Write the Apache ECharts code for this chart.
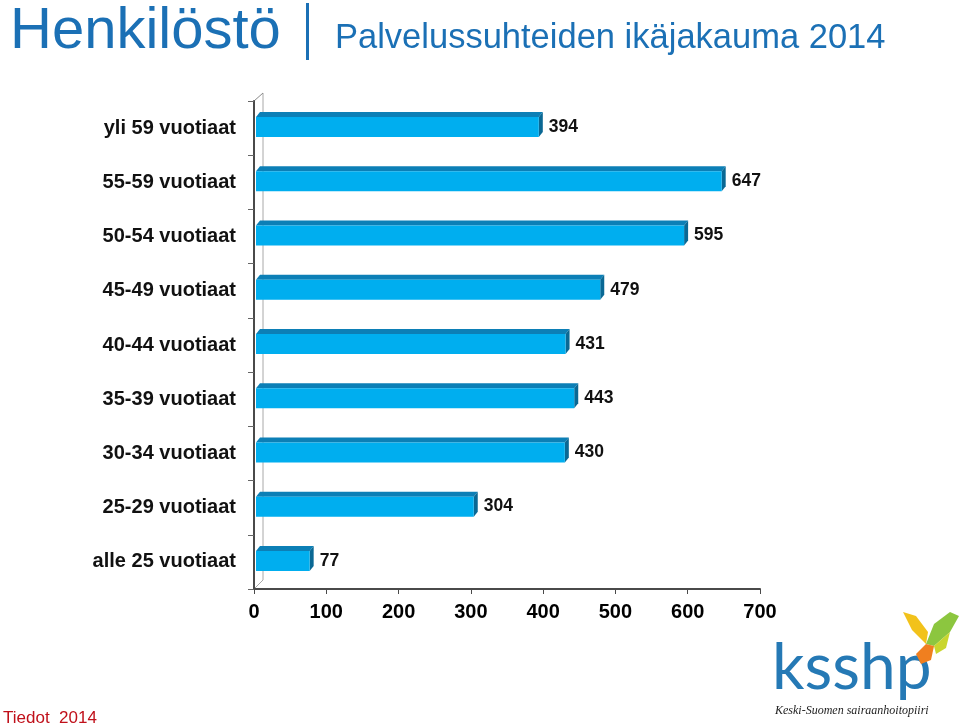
<!DOCTYPE html>
<html>
<head>
<meta charset="utf-8">
<script src="https://cdn.jsdelivr.net/npm/echarts@6.0.0/dist/echarts.min.js"></script>
<style>html,body{margin:0;padding:0;background:#fff}#c{width:960px;height:726px}</style>
</head>
<body>
<div id="c"></div>
<script>
// ---- data ----
const categories = ['alle 25 vuotiaat', '25-29 vuotiaat', '30-34 vuotiaat', '35-39 vuotiaat',
  '40-44 vuotiaat', '45-49 vuotiaat', '50-54 vuotiaat', '55-59 vuotiaat', 'yli 59 vuotiaat'];
const values = [77, 304, 430, 443, 431, 479, 595, 647, 394];
const axisTickValues = [0, 100, 200, 300, 400, 500, 600, 700];
const titleMain = 'Henkilöstö';
const titleSub = 'Palvelussuhteiden ikäjakauma 2014';
const sourceNote = 'Tiedot  2014';

const FONT = '"Liberation Sans", Arial, sans-serif';
const chart = echarts.init(document.getElementById('c'), null, {renderer: 'canvas'});

function renderBar(params, api) {
  const v = api.value(0), c = api.value(1);
  const p0 = api.coord([0, c]);
  const p1 = api.coord([v, c]);
  const x0 = p0[0] + 2, x1 = p1[0], yc = p0[1];
  const top = yc - 11, bot = yc + 9, dx = 4, dy = 5;
  return {
    type: 'group',
    children: [
      {type: 'polygon', shape: {points: [[x0, top], [x0 + dx, top - dy], [x1 + dx, top - dy], [x1, top]]},
        style: {fill: '#0C7FB6'}},
      {type: 'polygon', shape: {points: [[x1, top], [x1 + dx, top - dy], [x1 + dx, bot - dy], [x1, bot]]},
        style: {fill: '#0A6894'}},
      {type: 'rect', shape: {x: x0, y: top, width: x1 - x0, height: bot - top},
        style: {fill: '#00AEEF'}},
      {type: 'text', x: x1 + dx + 6, y: yc - 1,
        style: {text: String(v), font: 'bold 17.5px ' + FONT, fill: '#111', verticalAlign: 'middle', align: 'left'}}
    ]
  };
}

const option = {
  animation: false,
  backgroundColor: '#fff',
  grid: {left: 254, top: 101, width: 506, height: 488, containLabel: false},
  xAxis: {
    type: 'value', min: 0, max: 700, interval: 100,
    axisLine: {show: true, lineStyle: {color: '#4a4a4a', width: 2}},
    axisTick: {show: true, length: 5, lineStyle: {color: '#4a4a4a', width: 1}},
    splitLine: {show: false},
    axisLabel: {show: true, margin: 13, color: '#000', fontSize: 20, fontWeight: 'bold', fontFamily: FONT,
      formatter: v => axisTickValues.includes(v) ? String(v) : ''}
  },
  yAxis: {
    type: 'category', data: categories,
    axisLine: {show: true, lineStyle: {color: '#4a4a4a', width: 2}},
    axisTick: {show: true, length: 6, lineStyle: {color: '#666', width: 1}},
    axisLabel: {margin: 18, color: '#111', fontSize: 20, fontWeight: 'bold', fontFamily: FONT},
    splitLine: {show: false}
  },
  series: [{
    type: 'custom',
    renderItem: renderBar,
    encode: {x: 0, y: 1},
    clip: false,
    data: values.map((v, i) => [v, i])
  }],
  graphic: [
    // back wall of the 3D frame
    {type: 'line', shape: {x1: 263, y1: 93, x2: 263, y2: 580}, style: {stroke: '#a8a8a8', lineWidth: 1}, z: 0},
    {type: 'line', shape: {x1: 254, y1: 101, x2: 263, y2: 93}, style: {stroke: '#8a8a8a', lineWidth: 1}, z: 0},
    {type: 'line', shape: {x1: 254, y1: 589, x2: 263, y2: 580}, style: {stroke: '#a8a8a8', lineWidth: 1}, z: 0},
    // titles
    {type: 'text', x: 10, y: 32, style: {text: titleMain, font: '58px ' + FONT, fill: '#1B70B5', verticalAlign: 'middle'}},
    {type: 'rect', shape: {x: 306, y: 3, width: 3, height: 57}, style: {fill: '#1B70B5'}},
    {type: 'text', x: 335, y: 38, style: {text: titleSub, font: '34.5px ' + FONT, fill: '#1B70B5', verticalAlign: 'middle'}},
    {type: 'text', x: 3, y: 718, style: {text: sourceNote, font: '17px ' + FONT, fill: '#C0101A', verticalAlign: 'middle'}},
    // logo
    {type: 'text', x: 772, y: 668, style: {text: 'ksshp', font: '64px Lato, "Open Sans", sans-serif', fill: '#2579B5', verticalAlign: 'middle'}},
    {type: 'text', x: 775, y: 711, style: {text: 'Keski-Suomen sairaanhoitopiiri', font: 'italic 12px "Liberation Serif", serif', fill: '#222', verticalAlign: 'middle'}},
    {type: 'polygon', shape: {points: [[926, 644], [934, 624], [950, 612], [959, 616], [950, 632], [934, 646]]}, style: {fill: '#8CC63F'}},
    {type: 'polygon', shape: {points: [[926, 644], [912, 630], [903, 612], [916, 616], [928, 632]]}, style: {fill: '#F2C21B'}},
    {type: 'polygon', shape: {points: [[926, 644], [934, 646], [931, 660], [921, 664], [916, 654]]}, style: {fill: '#F07F1F'}},
    {type: 'polygon', shape: {points: [[934, 646], [950, 632], [946, 648], [936, 654]]}, style: {fill: '#C9D62E'}}
  ]
};
chart.setOption(option);
</script>
</body>
</html>
